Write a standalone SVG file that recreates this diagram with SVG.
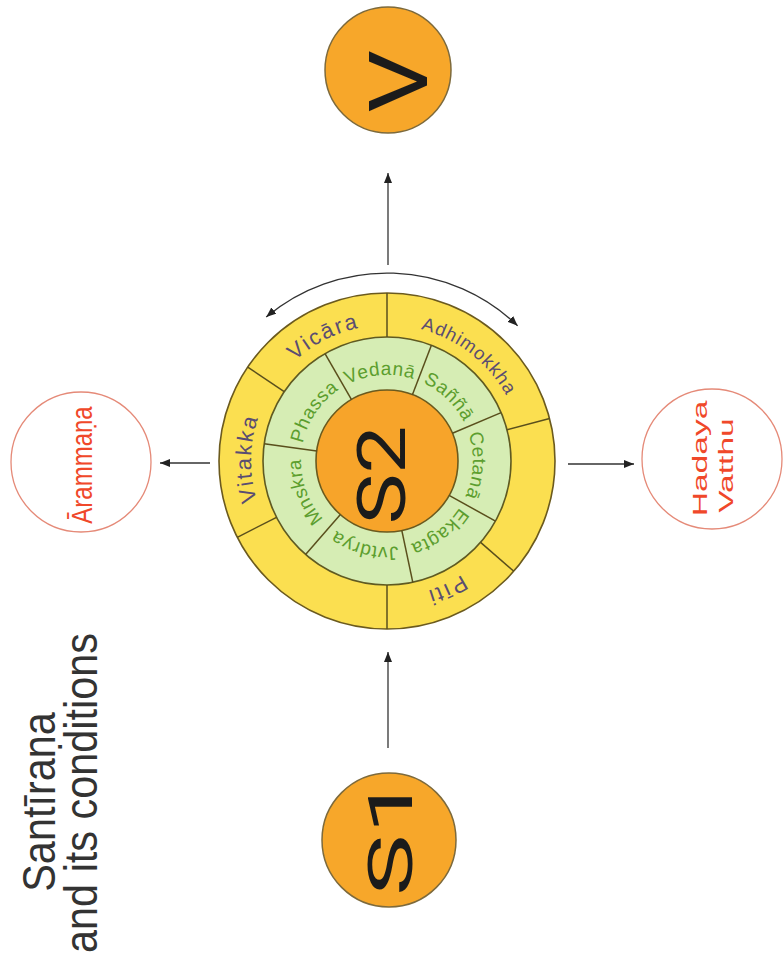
<svg xmlns="http://www.w3.org/2000/svg" width="784" height="973" viewBox="0 0 784 973">
  <style>
    .bg { fill: #ffffff; }
    .node { fill: #f7a72a; stroke: #7d6a3c; stroke-width: 1.5; }
    .ring-outer { fill: #fbdf50; stroke: #6b5a1e; stroke-width: 1.6; }
    .ring-green { fill: #d6edb4; stroke: #5f5a22; stroke-width: 1.6; }
    .core { fill: #f7a42a; stroke: #6b5a1e; stroke-width: 1.6; }
    .div { stroke: #5a4f1c; stroke-width: 1.5; fill: none; }
    .cond { fill: #ffffff; stroke: #e58a78; stroke-width: 1.3; }
    .big { font-family: Roboto, "Liberation Sans", Arial, sans-serif; fill: #1b1b1b; text-anchor: middle; }
    .title { font-family: "Liberation Sans", Arial, sans-serif; font-size: 46px; fill: #333333; text-anchor: middle; }
    .red { font-family: "Liberation Sans", Arial, sans-serif; fill: #f0482a; text-anchor: middle; }
    .outer-lbl { font-family: "Liberation Sans", Arial, sans-serif; font-size: 22px; letter-spacing: 2px; fill: #5a4d72; text-anchor: middle; }
    .green-lbl { font-family: "Liberation Sans", Arial, sans-serif; font-size: 19px; letter-spacing: 0.6px; fill: #5c9e2e; text-anchor: middle; }
    .edge { stroke: #333333; stroke-width: 1.3; fill: none; }
  </style>
  <defs>
    <marker id="arrow" markerUnits="userSpaceOnUse" markerWidth="10" markerHeight="8" refX="10" refY="4" orient="auto-start-reverse">
      <path d="M0,0 L10,4 L0,8 z" fill="#222222"/>
    </marker>
    <!-- baseline arcs for ring labels (clockwise, tops facing outward) -->
    <path id="p-phassa" d="M317.4,511.6 A86,86 0 0 1 407.8,377.6"/>
    <path id="p-vedana" d="M304.1,438 A86,86 0 0 1 465.3,425.3"/>
    <path id="p-sanna" d="M349.3,383.7 A86,86 0 0 1 465.6,496"/>
    <path id="p-cetana" d="M420.6,381.8 A86,86 0 0 1 412.1,543.2"/>
    <path id="p-ekagta" d="M469.5,436.6 A86,86 0 0 1 339.5,532.7"/>
    <path id="p-jvtdrya" d="M457.9,509.7 A86,86 0 0 1 301.4,469.2"/>
    <path id="p-mnskra" d="M387.7,547 A86,86 0 0 1 331.2,395.6"/>
    <path id="p-vicara" d="M251.2,453.9 A136,136 0 0 1 461.1,346.9"/>
    <path id="p-adhi" d="M336.1,334.9 A136,136 0 0 1 521.7,479.9"/>
    <path id="p-piti" d="M522.5,472.9 A136,136 0 0 1 309,572.4"/>
    <path id="p-vitakka" d="M317,577.6 A136,136 0 0 1 321.1,342.1"/>
  </defs>

  <rect class="bg" x="0" y="0" width="784" height="973"/>

  <!-- title -->
  <g id="title">
    <text class="title" transform="translate(55,802) rotate(-90) scale(0.9,1)">Santīraṇa</text>
    <text class="title" transform="translate(97,793) rotate(-90) scale(0.9,1)">and its conditions</text>
  </g>

  <!-- connectors -->
  <g id="connectors">
    <line class="edge" x1="388" y1="748" x2="388" y2="652" marker-end="url(#arrow)"/>
    <line class="edge" x1="388" y1="265" x2="388" y2="173" marker-end="url(#arrow)"/>
    <line class="edge" x1="210" y1="463" x2="160" y2="463" marker-end="url(#arrow)"/>
    <line class="edge" x1="568" y1="464" x2="634" y2="464" marker-end="url(#arrow)"/>
    <path class="edge" d="M266.2,317 A188,188 0 0 1 517.6,325.8" marker-start="url(#arrow)" marker-end="url(#arrow)"/>
  </g>

  <!-- S2 wheel -->
  <g id="S2">
    <circle class="ring-outer" cx="387" cy="461" r="168"/>
    <circle class="ring-green" cx="387" cy="461" r="124"/>
    <circle class="core" cx="387" cy="461" r="71"/>
    <!-- outer ring dividers -->
    <line class="div" x1="387" y1="337" x2="387" y2="293"/>
    <line class="div" x1="507" y1="429.7" x2="549.6" y2="418.6"/>
    <line class="div" x1="480.6" y1="542.4" x2="513.8" y2="571.2"/>
    <line class="div" x1="387" y1="585" x2="387" y2="629"/>
    <line class="div" x1="276.5" y1="517.3" x2="237.3" y2="537.3"/>
    <line class="div" x1="284.2" y1="391.7" x2="247.7" y2="367.1"/>
    <!-- inner ring dividers -->
    <line class="div" x1="351.5" y1="399.5" x2="325" y2="353.6"/>
    <line class="div" x1="412.4" y1="394.7" x2="431.4" y2="345.2"/>
    <line class="div" x1="452.4" y1="433.3" x2="501.1" y2="412.6"/>
    <line class="div" x1="449.1" y1="495.4" x2="495.5" y2="521.1"/>
    <line class="div" x1="401.8" y1="530.4" x2="412.8" y2="582.3"/>
    <line class="div" x1="340.4" y1="514.6" x2="305.6" y2="554.6"/>
    <line class="div" x1="316.7" y1="451.1" x2="264.2" y2="443.7"/>
    <!-- outer labels -->
    <text class="outer-lbl"><textPath href="#p-vicara" startOffset="50%">Vicāra</textPath></text>
    <text class="outer-lbl" style="font-size:18.5px;letter-spacing:1px"><textPath href="#p-adhi" startOffset="50%">Adhimokkha</textPath></text>
    <text class="outer-lbl"><textPath href="#p-piti" startOffset="50%">Pīti</textPath></text>
    <text class="outer-lbl"><textPath href="#p-vitakka" startOffset="50%">Vitakka</textPath></text>
    <!-- inner labels -->
    <text class="green-lbl"><textPath href="#p-phassa" startOffset="50%">Phassa</textPath></text>
    <text class="green-lbl"><textPath href="#p-vedana" startOffset="50%">Vedanā</textPath></text>
    <text class="green-lbl"><textPath href="#p-sanna" startOffset="50%">Saññā</textPath></text>
    <text class="green-lbl"><textPath href="#p-cetana" startOffset="50%">Cetanā</textPath></text>
    <text class="green-lbl"><textPath href="#p-ekagta" startOffset="50%">Ekagta</textPath></text>
    <text class="green-lbl"><textPath href="#p-jvtdrya" startOffset="50%">Jvtdrya</textPath></text>
    <text class="green-lbl"><textPath href="#p-mnskra" startOffset="50%">Mnskra</textPath></text>
    <text class="big" font-size="66" transform="translate(405,475) rotate(-90) scale(1.3,1)">S2</text>
  </g>

  <g id="V">
    <circle class="node" cx="388" cy="70" r="63"/>
    <text class="big" font-size="82" transform="translate(427,81.5) rotate(-90) scale(1.2,1)">V</text>
  </g>

  <g id="S1">
    <circle class="node" cx="389" cy="840" r="67"/>
    <text class="big" font-size="61" transform="translate(412,836) rotate(-90) scale(1.7,1)">S1</text>
  </g>

  <g id="Aramma">
    <circle class="cond" cx="81" cy="462" r="70"/>
    <text class="red" font-size="30" transform="translate(92,465) rotate(-90) scale(0.8,1)">Ārammaṇa</text>
  </g>

  <g id="Hadaya">
    <circle class="cond" cx="712" cy="459" r="70"/>
    <text class="red" font-size="21" transform="translate(707,458.5) rotate(-90) scale(1.6,1)">Hadaya</text>
    <text class="red" font-size="21" transform="translate(733,465.5) rotate(-90) scale(1.6,1)">Vatthu</text>
  </g>
</svg>
